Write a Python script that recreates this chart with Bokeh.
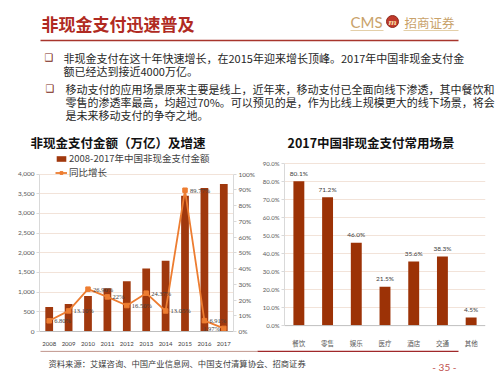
from bokeh.plotting import figure
from bokeh.models import (Range1d, FactorRange, LinearAxis, FixedTicker, Span,
                          PrintfTickFormatter, NumeralTickFormatter, Legend, LegendItem,
                          ColumnDataSource, LabelSet)
from bokeh.layouts import column, row
from bokeh.core.properties import value
from bokeh.embed import file_html
from bokeh.resources import INLINE

# ---------------- data ----------------
years = ["2008", "2009", "2010", "2011", "2012", "2013", "2014", "2015", "2016", "2017"]
amounts = [620, 700, 900, 1100, 1280, 1600, 1800, 3450, 3650, 3750]
growth = [6.80, 13.10, 26.90, 22.0, 16.50, 24.37, 13.05, 89.77, 6.91, 1.97]
growth_labels = ["6.80%", "13.10%", "26.90%", "22%", "16.50%", "24.37%",
                 "13.05%", "89.77%", "6.91%", "1.97%"]
amount_ticks = [0, 500, 1000, 1500, 2000, 2500, 3000, 3500, 4000]
growth_ticks = [0, 10, 20, 30, 40, 50, 60, 70, 80, 90, 100]
scenes = ["餐饮", "零售", "娱乐", "医疗", "酒店", "交通", "其他"]
scene_pct = [80.1, 71.2, 46.0, 21.5, 35.6, 38.3, 4.5]
scene_labels = ["80.1%", "71.2%", "46.0%", "21.5%", "35.6%", "38.3%", "4.5%"]
scene_ticks = [0, 10, 20, 30, 40, 50, 60, 70, 80, 90]

title_text = "非现金支付迅速普及"
bullet1 = ["非现金支付在这十年快速增长，在2015年迎来增长顶峰。2017年中国非现金支付金",
           "额已经达到接近4000万亿。"]
bullet2 = ["移动支付的应用场景原来主要是线上，近年来，移动支付已全面向线下渗透，其中餐饮和",
           "零售的渗透率最高，均超过70%。可以预见的是，作为比线上规模更大的线下场景，将会",
           "是未来移动支付的争夺之地。"]
left_title = "非现金支付金额（万亿）及增速"
right_title = "2017中国非现金支付常用场景"
legend_bar = "2008-2017年中国非现金支付金额"
legend_line = "同比增长"
source_text = "资料来源：艾媒咨询、中国产业信息网、中国支付清算协会、招商证券"
page_text = "- 35 -"

CJK = value("Noto Sans CJK SC")
NUM = "Lato"
RED = "#B02A22"
GOLD = "#C9A26A"
BAR = "#A0380D"
BAR2 = "#9C3206"
ORANGE = "#ED7D31"
GRID = "#F2E3D9"


def canvas(w, h):
    f = figure(width=w, height=h, x_range=Range1d(0, w), y_range=Range1d(h, 0),
               x_axis_type=None, y_axis_type=None, output_backend="svg",
               toolbar_location=None, min_border=0)
    f.outline_line_color = None
    f.grid.visible = False
    return f

# ---------------- header ----------------
hd = canvas(500, 150)
hd.text(x=[41], y=[23], text=[title_text], text_font=CJK, text_font_size="17px",
        text_font_style="bold", text_color=RED, text_baseline="middle")
hd.text(x=[350], y=[21], text=["CMS"], text_font=value("Lato"), text_font_size="15px",
        text_color=GOLD, text_baseline="middle")
hd.scatter(x=[392], y=[21], size=12, marker="circle", fill_color="#C0392B",
           line_color="#8E2A1C")
hd.text(x=[392], y=[21.5], text=["m"], text_font=value("DejaVu Serif"), text_font_size="8px",
        text_font_style="bold italic", text_color="#F5D9A0", text_align="center",
        text_baseline="middle")
hd.text(x=[404], y=[21.5], text=["招商证券"], text_font=CJK, text_font_size="12.5px",
        text_color=GOLD, text_baseline="middle")
hd.segment(x0=[350, 403], y0=[30, 30], x1=[383, 458], y1=[30, 30], line_color="#E3CFA8",
           line_width=1)
hd.segment(x0=[40], y0=[40], x1=[458], y1=[40], line_color="#A8352C", line_width=1.6)

hd.text(x=[44, 45], y=[57, 88], text=["❑", "❑"], text_font=value("DejaVu Sans"),
        text_font_size="10px", text_color="#7A1F14", text_baseline="middle")
hd.text(x=[63] * len(bullet1), y=[57, 70], text=bullet1, text_font=CJK,
        text_font_size="11px", text_color="#262626", text_baseline="middle")
hd.text(x=[65] * len(bullet2), y=[88, 101, 114], text=bullet2, text_font=CJK,
        text_font_size="11px", text_color="#262626", text_baseline="middle")
hd.text(x=[30], y=[141.5], text=[left_title], text_font=CJK, text_font_size="12.5px",
        text_font_style="bold", text_color="#111111", text_baseline="middle")
hd.text(x=[287], y=[141.5], text=[right_title], text_font=CJK, text_font_size="12.5px",
        text_font_style="bold", text_color="#111111", text_baseline="middle")

# both charts share the same top/bottom borders (a row aligns them anyway);
# the frames are 182px tall: 152..334 on the page
BORDER_T, BORDER_B = 2, 16
FRAME_H = 182.0

# ---------------- left chart ----------------
SCALE_H = 160.0            # 0 -> 4000 spans 160px
p1 = figure(width=258, height=200, x_range=FactorRange(*years),
            y_range=Range1d(0, amount_ticks[-1] * FRAME_H / SCALE_H),
            output_backend="svg", toolbar_location=None,
            min_border_left=39, min_border_right=22,
            min_border_top=BORDER_T, min_border_bottom=BORDER_B)
p1.outline_line_color = None
p1.extra_y_ranges = {"pct": Range1d(0, growth_ticks[-1] * FRAME_H / SCALE_H)}
bars = p1.vbar(x=years, top=amounts, width=0.4, fill_color=BAR, line_color=None)
ln = p1.line(x=years, y=growth, y_range_name="pct", line_color=ORANGE, line_width=1.8)
pts = p1.scatter(x=years, y=growth, y_range_name="pct", marker="square", size=4.5,
                 fill_color=ORANGE, line_color=ORANGE)
# label placement: right of each point; the last one goes left so it stays inside the frame
n = len(years)
label_dx = [5] * (n - 1) + [-4]
label_align = ["left"] * (n - 1) + ["right"]
gsrc = ColumnDataSource(dict(x=years, y=growth, t=growth_labels, dx=label_dx, al=label_align))
p1.add_layout(LabelSet(x="x", y="y", text="t", source=gsrc, y_range_name="pct",
                       x_offset="dx", text_align="al",
                       text_font=NUM, text_font_size="6.5px", text_color="#404040",
                       text_baseline="middle"))

p1.yaxis.ticker = FixedTicker(ticks=amount_ticks)
p1.yaxis.formatter = NumeralTickFormatter(format="0,0")
p1.yaxis.bounds = (amount_ticks[0], amount_ticks[-1])
p1.ygrid.ticker = FixedTicker(ticks=amount_ticks)
p1.ygrid.grid_line_color = GRID
p1.xgrid.grid_line_color = None
ax_r = LinearAxis(y_range_name="pct", ticker=FixedTicker(ticks=growth_ticks),
                  formatter=PrintfTickFormatter(format="%d%%"),
                  bounds=(growth_ticks[0], growth_ticks[-1]))
p1.add_layout(ax_r, "right")
for ax in [p1.yaxis[0], ax_r]:
    ax.axis_line_color = "#D9D9D9"
    ax.major_tick_line_color = "#D9D9D9"
    ax.major_tick_out = 3
    ax.major_tick_in = 0
    ax.minor_tick_line_color = None
    ax.major_label_standoff = 2
    ax.major_label_text_font = NUM
    ax.major_label_text_font_size = "6.5px"
    ax.major_label_text_color = "#595959"
p1.xaxis.axis_line_color = "#BFBFBF"
p1.xaxis.major_tick_line_color = None
p1.xaxis.major_label_standoff = 4
p1.xaxis.major_label_text_font = NUM
p1.xaxis.major_label_text_font_size = "6px"
p1.xaxis.major_label_text_color = "#404040"

leg = Legend(items=[LegendItem(label=legend_bar, renderers=[bars]),
                    LegendItem(label=legend_line, renderers=[ln, pts])],
             location=(16, 152))
leg.label_text_font = "Noto Sans CJK SC"
leg.label_text_font_size = "9.5px"
leg.label_text_color = "#404040"
leg.glyph_width = 12
leg.glyph_height = 7
leg.label_height = 11
leg.label_standoff = 2
leg.spacing = 0
leg.padding = 0
leg.margin = 0
leg.border_line_color = None
leg.background_fill_alpha = 0
p1.add_layout(leg)

# ---------------- right chart ----------------
PX2 = 165.0 / 90.0         # px per percent; 0% sits 6px above the frame bottom
p2 = figure(width=242, height=200, x_range=FactorRange(*scenes),
            y_range=Range1d(-6.0 / PX2, scene_ticks[-1] + 11.0 / PX2),
            output_backend="svg", toolbar_location=None,
            min_border_left=26, min_border_right=15,
            min_border_top=BORDER_T, min_border_bottom=BORDER_B)
p2.outline_line_color = None
p2.add_layout(Span(location=0, dimension="width", line_color="#BFBFBF", line_width=1))
p2.vbar(x=scenes, top=scene_pct, width=0.38, fill_color=BAR2, line_color=None)
p2.text(x=scenes, y=scene_pct, text=scene_labels, y_offset=-8, text_align="center",
        text_baseline="middle", text_font=value(NUM), text_font_size="6.5px",
        text_color="#404040")
p2.yaxis.ticker = FixedTicker(ticks=scene_ticks)
p2.yaxis.formatter = PrintfTickFormatter(format="%.1f%%")
p2.yaxis.bounds = (scene_ticks[0], scene_ticks[-1])
p2.ygrid.ticker = FixedTicker(ticks=scene_ticks[1:])
p2.ygrid.grid_line_color = GRID
p2.xgrid.grid_line_color = None
ay = p2.yaxis[0]
ay.axis_line_color = "#D9D9D9"
ay.major_tick_line_color = "#D9D9D9"
ay.major_tick_out = 3
ay.major_tick_in = 0
ay.minor_tick_line_color = None
ay.major_label_standoff = 2
ay.major_label_text_font = NUM
ay.major_label_text_font_size = "6px"
ay.major_label_text_color = "#595959"
p2.xaxis.axis_line_color = None
p2.xaxis.major_tick_line_color = None
p2.xaxis.major_label_standoff = 0
p2.xaxis.major_label_text_font = "Noto Sans CJK SC"
p2.xaxis.major_label_text_font_size = "6.5px"
p2.xaxis.major_label_text_color = "#595959"

# ---------------- footer ----------------
ft = canvas(500, 25)
ft.segment(x0=[40], y0=[0.8], x1=[257], y1=[0.8], line_color="#B98A80", line_width=1)
ft.segment(x0=[257], y0=[0.8], x1=[458], y1=[0.8], line_color="#A0282A", line_width=1.6)
ft.text(x=[48], y=[12], text=[source_text], text_font=CJK, text_font_size="8.3px",
        text_color="#404040", text_baseline="middle")
ft.text(x=[456], y=[16], text=[page_text], text_font=value("Lato"), text_font_size="10px",
        text_color="#C0504D", text_baseline="middle", text_align="right")

layout = column(hd, row(p1, p2), ft)
open("out.html", "w").write(file_html(layout, INLINE))
